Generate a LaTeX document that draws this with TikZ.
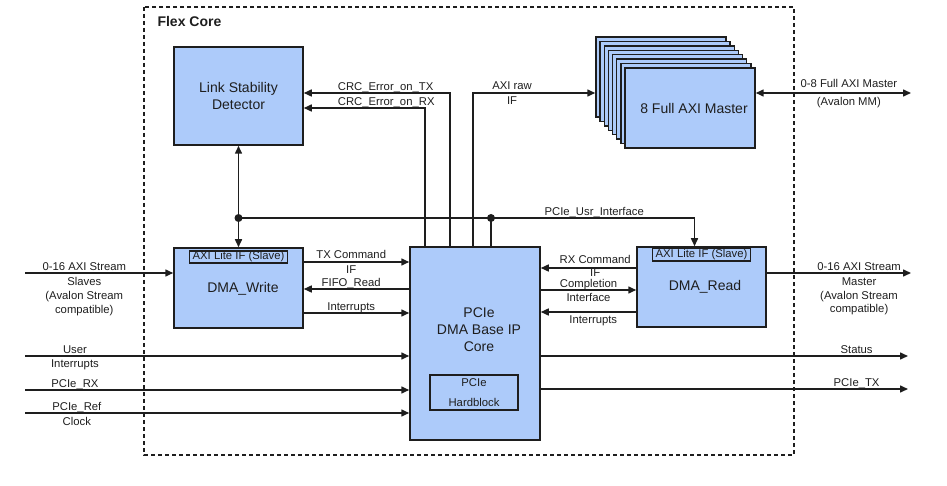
\documentclass[tikz,border=0pt]{standalone}
\usepackage{fontspec}
\setmainfont{Liberation Sans}
\usepackage{tikz}
\usetikzlibrary{arrows.meta, positioning, calc}
\definecolor{boxblue}{RGB}{173,203,250}
\definecolor{wire}{RGB}{30,30,30}

\begin{document}
\begin{tikzpicture}[x=1pt, y=-1pt,
  blk/.style={draw=wire, fill=boxblue, line width=1.5pt, inner sep=0pt},
  blktxt/.style={font=\fontsize{14}{17}\selectfont, align=center, text=wire},
  sub/.style={draw=wire, line width=1.4pt, inner xsep=2pt, inner ysep=0pt, font=\fontsize{11.3}{13.7}\selectfont, text=wire},
  lbl/.style={font=\fontsize{11.3}{14.5}\selectfont, inner xsep=1.5pt, inner ysep=2pt, align=center, text=wire},
  lbla/.style={lbl, above, text depth=0pt},
  lblb/.style={lbl, below, yshift=-2pt, font=\fontsize{11.3}{13.7}\selectfont},
  sig/.style={draw=wire, line width=1.5pt, -{Triangle[length=8pt,width=7pt]}},
  bidir/.style={sig, {Triangle[length=8pt,width=7pt]}-{Triangle[length=8pt,width=7pt]}},
  dot/.style={circle, fill=wire, inner sep=0pt, minimum size=8pt}]

  \useasboundingbox (0,0) rectangle (947,486);

  % Flex Core frame
  \draw[wire, line width=1.4pt, dash pattern=on 4pt off 3pt] (144,7) rectangle (794,455);
  \node[font=\bfseries\fontsize{14}{17}\selectfont, anchor=west, text=wire] (flextitle) at (154,21) {Flex Core};

  % blocks
  \node[blk, minimum width=129pt, minimum height=98pt] (lsd) at (238.5,96) {};
  \node[blktxt] (lsdtxt) at (lsd.center) {Link Stability\\Detector};

  \foreach \i in {0,...,7}
    \node[blk, minimum width=130pt, minimum height=80pt] (axi\i) at ({661+4.14*\i},{77+4.43*\i}) {};
  \node[blktxt] (axitxt) at (694,108) {8 Full AXI Master};

  \node[blk, minimum width=129pt, minimum height=80pt] (dmaw) at (238.5,288) {};
  \node[sub, minimum width=98pt, minimum height=12pt, below=3pt of dmaw.north] (dmawif) {AXI Lite IF (Slave)};
  \node[blktxt] (dmawtxt) at (243,289) {DMA\_Write};

  \node[blk, minimum width=130pt, minimum height=193pt] (pcie) at (475,343.5) {};
  \node[blktxt] (pcietxt) at (479,330) {PCIe\\DMA Base IP\\Core};
  \node[sub, minimum width=88pt, minimum height=35pt, align=center, font=\fontsize{11.3}{20}\selectfont] (hard) at (474,392.5) {PCIe\\Hardblock};

  \node[blk, minimum width=129pt, minimum height=80pt] (dmar) at (701.5,287) {};
  \node[sub, minimum width=98pt, minimum height=13pt, below=1pt of dmar.north] (dmarif) {AXI Lite IF (Slave)};
  \node[blktxt] (dmartxt) at (705,287) {DMA\_Read};

  % rows and columns
  \coordinate (ycrctx) at (0,93);
  \coordinate (ycrcrx) at (0,108);
  \coordinate (yusr) at (0,218);
  \coordinate (ytx) at (0,262);
  \coordinate (yfifo) at (0,289);
  \coordinate (yirqw) at (0,313);
  \coordinate (yrx) at (0,268);
  \coordinate (ycpl) at (0,290);
  \coordinate (yirqr) at (0,312);
  \coordinate (ystrm) at (0,273);
  \coordinate (yuser) at (0,356);
  \coordinate (ypcierx) at (0,390);
  \coordinate (yref) at (0,413);
  \coordinate (ypcietx) at (0,389);
  \coordinate (xcrcrx) at (425,0);
  \coordinate (xcrctx) at (450,0);
  \coordinate (xraw) at (473,0);
  \coordinate (xusr) at (491,0);
  \coordinate (lin) at (25,0);
  \coordinate (rout) at (908,0);
  \coordinate (rout2) at (911,0);

  % top connections
  \draw[sig] (xcrctx |- pcie.north) |- (lsd.east |- ycrctx)
    node[lbla, pos=0.72] {CRC\_Error\_on\_TX};
  \draw[sig] (xcrcrx |- pcie.north) |- (lsd.east |- ycrcrx)
    node[lbla, pos=0.66] {CRC\_Error\_on\_RX};
  \draw[sig] (xraw |- pcie.north) |- (axi0.west |- ycrctx)
    node[lbl, pos=0.66] {AXI raw\\IF};
  \draw[bidir] (axi7.east |- ycrctx) -- (rout2 |- ycrctx)
    node[lbla, pos=0.6, yshift=3pt] {0-8 Full AXI Master}
    node[lblb, pos=0.6] {(Avalon MM)};

  % user interface bus
  \draw[bidir] (lsd.south) -- (dmaw.north);
  \node[dot] (j1) at (lsd.south |- yusr) {};
  \node[dot] (j2) at (xusr |- yusr) {};
  \draw[sig] (j1.center) -| ([xshift=-7pt]dmar.north)
    node[lbla, pos=0.39] {PCIe\_Usr\_Interface};
  \draw[wire, line width=1.5pt] (j2.center) -- (j2.center |- pcie.north);

  % DMA_Write <-> PCIe
  \draw[sig] (dmaw.east |- ytx) -- (pcie.west |- ytx) node[lbl, pos=0.45] {TX Command\\IF};
  \draw[sig] (pcie.west |- yfifo) -- (dmaw.east |- yfifo) node[lbla, pos=0.55] {FIFO\_Read};
  \draw[sig] (dmaw.east |- yirqw) -- (pcie.west |- yirqw) node[lbla, pos=0.45] {Interrupts};

  % PCIe <-> DMA_Read
  \draw[sig] (dmar.west |- yrx) -- (pcie.east |- yrx) node[lbl, pos=0.43, yshift=2pt, font=\fontsize{11.3}{12.5}\selectfont] {RX Command\\IF};
  \draw[sig] (pcie.east |- ycpl) -- (dmar.west |- ycpl) node[lbl, pos=0.5, font=\fontsize{11.3}{14}\selectfont] {Completion\\Interface};
  \draw[sig] (dmar.west |- yirqr) -- (pcie.east |- yirqr) node[lblb, pos=0.45, yshift=1pt] {Interrupts};

  % inputs
  \draw[sig] (lin |- ystrm) -- (dmaw.west |- ystrm)
    node[lbla, pos=0.4] {0-16 AXI Stream}
    node[lblb, pos=0.4] {Slaves\\(Avalon Stream\\compatible)};
  \draw[sig] (lin |- yuser) -- (pcie.west |- yuser)
    node[lbla, pos=0.13] {User}
    node[lblb, pos=0.13, yshift=1pt] {Interrupts};
  \draw[sig] (lin |- ypcierx) -- (pcie.west |- ypcierx)
    node[lbla, pos=0.13] {PCIe\_RX};
  \draw[sig] (lin |- yref) -- (pcie.west |- yref)
    node[lbla, pos=0.135] {PCIe\_Ref}
    node[lblb, pos=0.135] {Clock};

  % outputs
  \draw[sig] (dmar.east |- ystrm) -- (rout2 |- ystrm)
    node[lbla, pos=0.64] {0-16 AXI Stream}
    node[lblb, pos=0.64] {Master\\(Avalon Stream\\compatible)};
  \draw[sig] (pcie.east |- yuser) -- (rout |- yuser)
    node[lbla, pos=0.86] {Status};
  \draw[sig] (pcie.east |- ypcietx) -- (rout |- ypcietx)
    node[lbla, pos=0.86] {PCIe\_TX};
\end{tikzpicture}
\end{document}
